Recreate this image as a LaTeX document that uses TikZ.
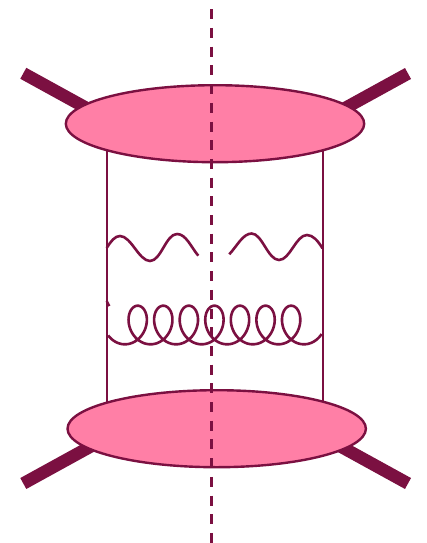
\documentclass[tikz,border=0pt]{standalone}
\usetikzlibrary{shapes.geometric,backgrounds}
\definecolor{darkwine}{HTML}{7B1041}
\definecolor{blobpink}{HTML}{FF7FA6}
\tikzset{
  blob/.style={ellipse,draw=darkwine,fill=blobpink,line width=2.4pt,inner sep=0pt,outer sep=0pt},
  leg/.style={draw=darkwine,line width=12.5pt},
  wire/.style={draw=darkwine,line width=2.4pt},
  boson/.style={draw=darkwine,line width=2.6pt,line join=round},
  cut/.style={draw=darkwine,line width=2.6pt,dash pattern=on 10pt off 8.7pt}
}
\begin{document}
\begin{tikzpicture}[x=1pt,y=-1pt]
\useasboundingbox (0,0) rectangle (427,543);
\node[blob,minimum width=298.4pt,minimum height=77pt] (top) at (215,123.7) {};
\node[blob,minimum width=298.4pt,minimum height=77pt] (bot) at (216.7,428.7) {};
\coordinate (tl) at (23.3,73.3);
\coordinate (tr) at (408,73.5);
\coordinate (bl) at (23.3,483.5);
\coordinate (br) at (408,483.5);
\coordinate (tle) at (103.3,117.3);
\coordinate (tre) at (328,117.5);
\coordinate (ble) at (103.3,439.5);
\coordinate (bre) at (328,439.5);
\coordinate (cuta) at (211.7,9.3);
\coordinate (cutb) at (211.7,542.7);
\coordinate (vla) at (106.7,123);
\coordinate (vlb) at (106.7,429);
\coordinate (vra) at (323,123);
\coordinate (vrb) at (323,429);
\coordinate (tick) at (109.3,306);
\coordinate (ticks) at (106.7,301);
\begin{scope}[on background layer]
  \draw[leg] (tl) -- (tle);
  \draw[leg] (tr) -- (tre);
  \draw[leg] (bl) -- (ble);
  \draw[leg] (br) -- (bre);
  \draw[wire] (vla) -- (vlb);
  \draw[wire] (vra) -- (vrb);
\end{scope}
\draw[wire] (ticks) -- (tick);
\draw[boson] (106.7,248) .. controls (111,241) and (115,236) .. (120,236) .. controls (131,236) and (139,261) .. (150,261) .. controls (161,261) and (166,234) .. (177,234) .. controls (186,234) and (191,247) .. (198.3,255.7);
\draw[boson] (229.3,254.3) .. controls (237,246) and (243,233.5) .. (251.7,233.5) .. controls (262,233.5) and (268,260) .. (279,260) .. controls (290,260) and (296,235) .. (307,235) .. controls (313,235) and (318,241) .. (322.5,248.3);
\draw[boson] plot[domain=-1.0:45.07,samples=500] ({137.7+4.07*(\x-3.14159)+15*sin(\x r)},{325+19.3*cos(\x r)});
\draw[cut] (cuta) -- (cutb);
\end{tikzpicture}
\end{document}
